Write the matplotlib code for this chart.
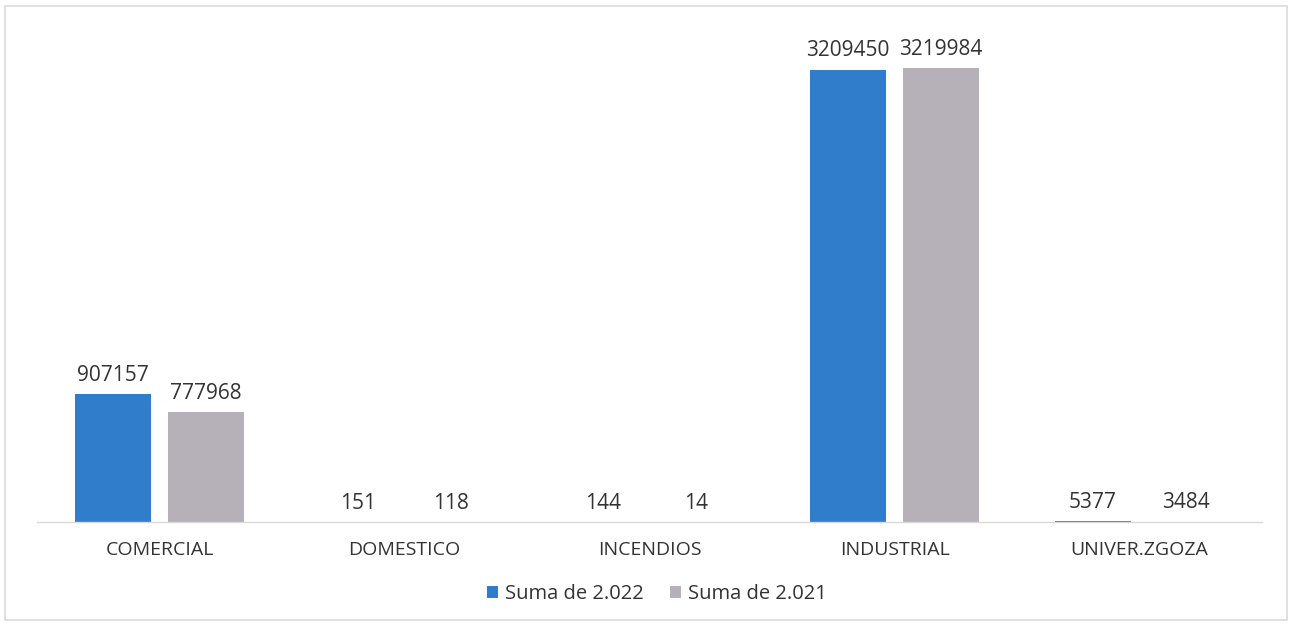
import matplotlib
matplotlib.use("Agg")
import matplotlib.pyplot as plt
from matplotlib.patches import Rectangle
import numpy as np

categories = ["COMERCIAL", "DOMESTICO", "INCENDIOS", "INDUSTRIAL", "UNIVER.ZGOZA"]
suma_2022 = [907157, 151, 144, 3209450, 5377]
suma_2021 = [777968, 118, 14, 3219984, 3484]
series_names = ["Suma de 2.022", "Suma de 2.021"]

color_2022 = "#2F7DCB"
color_2021 = "#B6B0B9"
text_color = "#333333"
font = ["Open Sans", "DejaVu Sans"]

fig = plt.figure(figsize=(12.92, 6.25), dpi=100)
ax = fig.add_axes([37 / 1292, 1 - 522 / 625, 1225 / 1292, 492 / 625])

x = np.arange(len(categories))
width = 0.31
offset = 0.19

bars_a = ax.bar(x - offset, suma_2022, width, color=color_2022, label=series_names[0])
bars_b = ax.bar(x + offset, suma_2021, width, color=color_2021, label=series_names[1])

for bars, vals in ((bars_a, suma_2022), (bars_b, suma_2021)):
    for b, v in zip(bars, vals):
        ax.annotate(str(v), (b.get_x() + b.get_width() / 2, v),
                    xytext=(0, 6), textcoords="offset points",
                    ha="center", va="bottom", fontsize=15,
                    color=text_color, family=font)

ax.set_xlim(-0.5, 4.5)
ax.set_ylim(0, 3.49e6)
ax.set_xticks(x)
ax.set_xticklabels(categories, fontsize=14, color=text_color, family=font)
ax.tick_params(axis="x", length=0, pad=14)
ax.set_yticks([])
for side in ("top", "left", "right"):
    ax.spines[side].set_visible(False)
ax.spines["bottom"].set_color("#D9D9D9")
ax.spines["bottom"].set_linewidth(1.0)

leg = fig.legend(handles=[bars_a, bars_b], labels=series_names,
                 loc="center", bbox_to_anchor=(657 / 1292, 1 - 594 / 625),
                 ncol=2, frameon=False, handlelength=0.55, handleheight=0.55,
                 handletextpad=0.35, columnspacing=1.3,
                 prop={"family": font, "size": 14.5})
for t in leg.get_texts():
    t.set_color(text_color)

# outer chart frame
fig.patches.append(Rectangle((5 / 1292, 1 - 620 / 625), 1282 / 1292, 614 / 625,
                             transform=fig.transFigure, fill=False,
                             edgecolor="#DADADA", linewidth=1.2))

fig.savefig("out.png", dpi=100, facecolor="white")
